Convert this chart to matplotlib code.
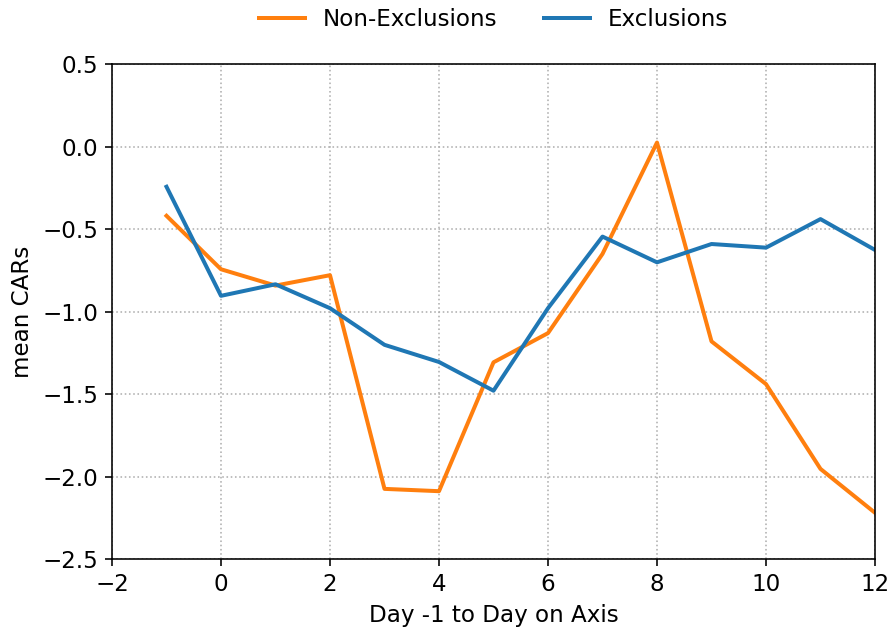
import matplotlib
matplotlib.use('Agg')
import matplotlib.pyplot as plt

days = [-1, 0, 1, 2, 3, 4, 5, 6, 7, 8, 9, 10, 11, 12]
non_excl = [-0.42, -0.744, -0.843, -0.78, -2.075, -2.089, -1.308, -1.131, -0.651, 0.024, -1.181, -1.44, -1.954, -2.22]
excl = [-0.244, -0.905, -0.835, -0.98, -1.202, -1.306, -1.48, -0.98, -0.546, -0.702, -0.591, -0.613, -0.44, -0.627]

plt.rcParams['font.size'] = 11.5

fig = plt.figure(figsize=(893/144, 633/144), dpi=144)
ax = fig.add_axes([112/893, 1 - 559/633, (875-112)/893, (559-64)/633])

ax.plot(days, non_excl, color='#ff7f0e', lw=2, label='Non-Exclusions')
ax.plot(days, excl, color='#1f77b4', lw=2, label='Exclusions')

ax.set_xlim(-2, 12)
ax.set_ylim(-2.5, 0.5)
ax.grid(True, linestyle=':', color='#b0b0b0')
ax.set_xlabel('Day -1 to Day on Axis')
ax.set_ylabel('mean CARs')
ax.legend(loc='lower center', bbox_to_anchor=(0.5, 1.025), ncol=2, frameon=False)

fig.savefig('out.png', dpi=144)
